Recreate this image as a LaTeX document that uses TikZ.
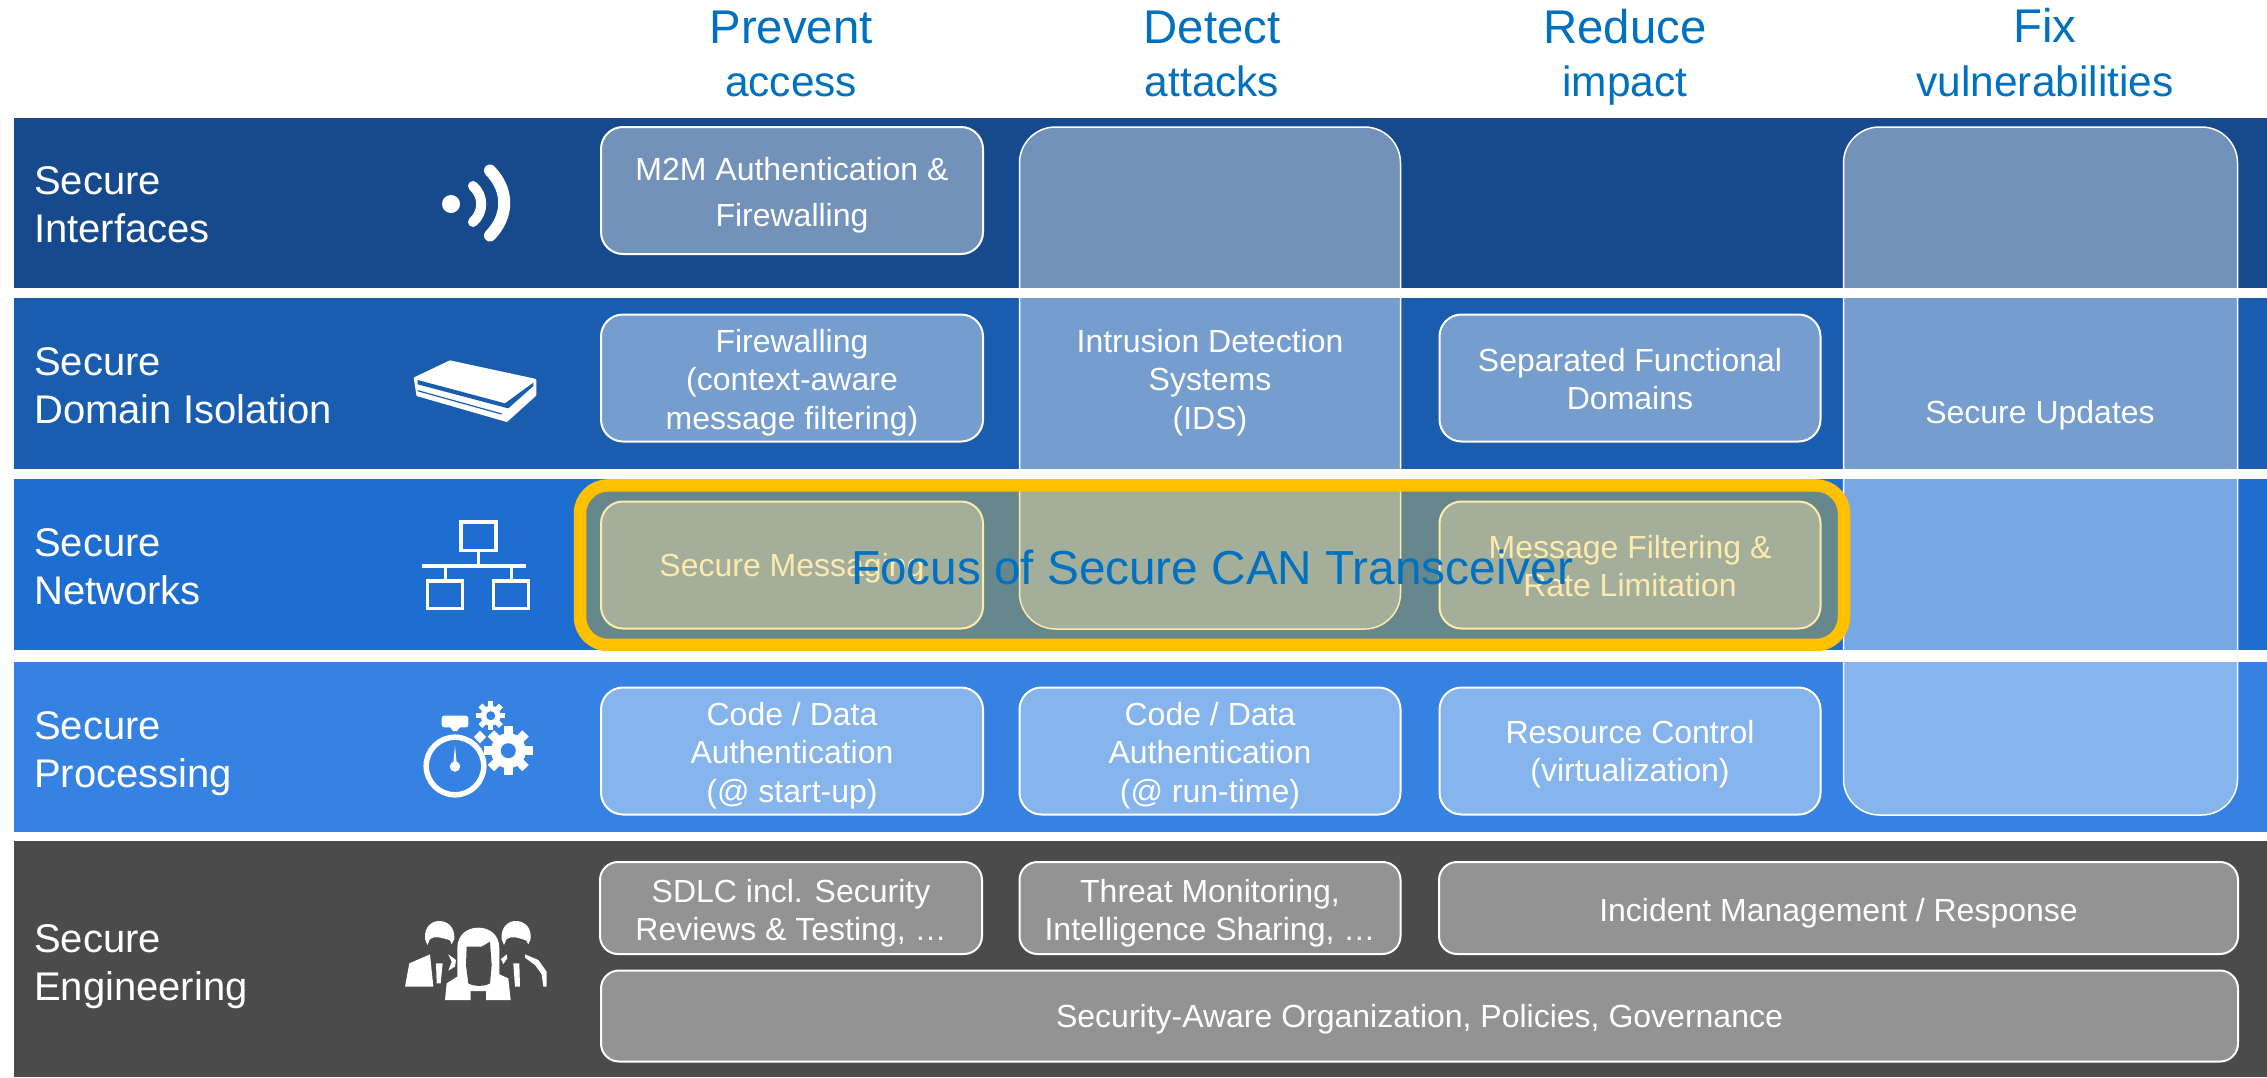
\documentclass[tikz,border=0pt]{standalone}
\usepackage{fontspec}
\setmainfont{Liberation Sans}
\definecolor{bandA}{HTML}{174A8C}
\definecolor{bandB}{HTML}{1A5DAE}
\definecolor{bandC}{HTML}{1E6ED1}
\definecolor{bandD}{HTML}{3682E2}
\definecolor{bandE}{HTML}{4B4B4B}
\definecolor{headblue}{HTML}{0070C0}
\definecolor{frameyellow}{HTML}{FFC000}
\tikzset{
  band/.style={rectangle,inner sep=0pt,outer sep=0pt,draw=none},
  cell/.style={rectangle,rounded corners=22pt,draw=white,line width=2pt,fill=white,fill opacity=.4,draw opacity=1,inner sep=0pt},
  tallcell/.style={cell,rounded corners=36pt,line width=1.5pt},
  engcell/.style={cell,rounded corners=18pt},
  celltext/.style={text=white,align=center,inner sep=0pt,font=\fontsize{32}{38.5}\selectfont},
  rowlabel/.style={text=white,align=left,anchor=west,inner sep=0pt,font=\fontsize{40}{48}\selectfont},
  head/.style={text=headblue,align=center,inner sep=0pt,font=\fontsize{47.3}{53.5}\selectfont},
  focusframe/.style={rectangle,rounded corners=28pt,draw=frameyellow,line width=12.5pt,fill=frameyellow,fill opacity=.32,draw opacity=1,inner sep=0pt},
  focustext/.style={text=headblue,inner sep=0pt,font=\fontsize{47.7}{54}\selectfont},
  iconline/.style={draw=white,line width=3.5pt},
  pic3/.style={x=0.33333pt,y=-0.33333pt}
}
\newcommand{\subhead}[1]{{\fontsize{42.4}{53.5}\selectfont #1}}
\newcommand{\gearicon}[6]{% cx cy root tip toothwidth hole
  \foreach \ang in {0,45,...,315}{
    \fill[white,rotate around={\ang:(#1,#2)}] (#1-#5/2,#2) rectangle (#1+#5/2,#2-#4);
  }
  \fill[white] (#1,#2) circle[radius=#3];
  \fill[bandD] (#1,#2) circle[radius=#6];
}
\begin{document}
\begin{tikzpicture}[x=1pt,y=-1pt]
\useasboundingbox (0,0) rectangle (2267,1077);
\fill[white] (0,0) rectangle (2267,1077);
% bands
\node[band,fill=bandA,anchor=north west,minimum width=2253pt,minimum height=169.5pt] (b1) at (14,118) {};
\node[band,fill=bandB,anchor=north west,minimum width=2253pt,minimum height=171pt] (b2) at (14,298) {};
\node[band,fill=bandC,anchor=north west,minimum width=2253pt,minimum height=171pt] (b3) at (14,479) {};
\node[band,fill=bandD,anchor=north west,minimum width=2253pt,minimum height=170pt] (b4) at (14,662) {};
\node[band,fill=bandE,anchor=north west,minimum width=2253pt,minimum height=236pt] (b5) at (14,841) {};
% headers
\node[head] (h1) at (791,54) {Prevent\\\subhead{access}};
\node[head] (h2) at (1212,54) {Detect\\\subhead{attacks}};
\node[head] (h3) at (1625,57.5) {Reduce\\\subhead{impact}};
\node[head] (h4) at (2045,52.5) {Fix\\\subhead{vulnerabilities}};
% row labels
\node[rowlabel] (l1) at (34,205) {Secure\\Interfaces};
\node[rowlabel] (l2) at (34,386) {Secure\\Domain Isolation};
\node[rowlabel] (l3) at (34,567) {Secure\\Networks};
\node[rowlabel] (l4) at (34,754) {Secure\\Processing};
\node[rowlabel] (l5) at (34,967) {Secure\\Engineering};
% tall columns
\node[tallcell,minimum width=381pt,minimum height=502pt] (tall2) at (1210,378) {};
\node[tallcell,minimum width=394pt,minimum height=688pt] (tall4) at (2040.5,471) {};
\node[celltext] (ids) at (1210,382.5) {Intrusion Detection\\Systems\\(IDS)};
\node[celltext] (upd) at (2040,415.5) {Secure Updates};
% cells
\node[cell,minimum width=382pt,minimum height=127pt] (c11) at (792,190.5) {};
\node[celltext,font=\fontsize{32}{46}\selectfont] (t11) at (792,195) {M2M Authentication \&\\Firewalling};
\node[cell,minimum width=382pt,minimum height=127pt] (c21) at (792,378) {};
\node[celltext] (t21) at (792,382.5) {Firewalling\\(context-aware\\message filtering)};
\node[cell,minimum width=381pt,minimum height=127pt] (c23) at (1630,378) {};
\node[celltext] (t23) at (1630,379) {Separated Functional\\Domains};
\node[cell,minimum width=382pt,minimum height=127pt] (c31) at (792,565) {};
\node[celltext] (t31) at (792,568) {Secure Messaging};
\node[cell,minimum width=381pt,minimum height=127pt] (c33) at (1630,565) {};
\node[celltext] (t33) at (1630,566) {Message Filtering \&\\Rate Limitation};
\node[cell,minimum width=382pt,minimum height=127pt] (c41) at (792,751) {};
\node[celltext] (t41) at (792,755.5) {Code / Data\\Authentication\\(@ start-up)};
\node[cell,minimum width=381pt,minimum height=127pt] (c42) at (1210,751) {};
\node[celltext] (t42) at (1210,755.5) {Code / Data\\Authentication\\(@ run-time)};
\node[cell,minimum width=381pt,minimum height=127pt] (c43) at (1630,751) {};
\node[celltext] (t43) at (1630,754) {Resource Control\\(virtualization)};
% engineering cells
\node[engcell,minimum width=382pt,minimum height=92pt] (e1) at (791,908) {};
\node[celltext] (te1) at (791,913) {SDLC incl. Security\\Reviews \& Testing, …};
\node[engcell,minimum width=381pt,minimum height=92pt] (e2) at (1210,908) {};
\node[celltext] (te2) at (1210,913) {Threat Monitoring,\\Intelligence Sharing, …};
\node[engcell,minimum width=799pt,minimum height=92pt] (e3) at (1838.5,908) {};
\node[celltext] (te3) at (1838.5,913.5) {Incident Management / Response};
\node[engcell,minimum width=1637pt,minimum height=91pt] (e4) at (1419.5,1016) {};
\node[celltext] (te4) at (1419.5,1019) {Security-Aware Organization, Policies, Governance};
% focus frame
\node[focusframe,minimum width=1264pt,minimum height=159.5pt] (ff) at (1212,565.2) {};
\node[focustext] (ft) at (1212,567) {Focus of Secure CAN Transceiver};
% --- icons ---
% wireless
\fill[white] (451,204) circle[radius=9];
\draw[white,line width=10pt,line cap=round] (473,186) .. controls (484,196) and (484,212) .. (473,222);
\draw[white,line width=12pt,line cap=round] (490,170.5) .. controls (509,190) and (509,216) .. (490,235.5);
% router
\begin{scope}[shift={(405,350)},pic3]
\fill[white,line join=round,draw=white,line width=2.5pt] (30,85) -- (135,35) -- (390,90) -- (390,135) -- (305,212) -- (38,135) -- cycle;
\fill[bandB] (38,90) -- (300,160) -- (385,98) -- (385,108) -- (310,175) -- (298,172) -- (38,103) -- cycle;
\draw[bandB,line width=1.2pt] (38,122) -- (290,192);
\end{scope}
% network
\draw[iconline] (461,522) rectangle (496,550.5);
\draw[iconline] (427.5,581) rectangle (462.5,608.5);
\draw[iconline] (493.5,581) rectangle (528.3,608.5);
\draw[iconline] (422,566) -- (525.7,566);
\draw[iconline] (478.3,552) -- (478.3,566);
\draw[iconline] (445.7,566) -- (445.7,580);
\draw[iconline] (511.7,566) -- (511.7,580);
% stopwatch and gears
\draw[white,line width=5.5pt] (455,766) circle[radius=28.8];
\fill[white,rounded corners=2.5pt] (441.7,715.7) rectangle (468.3,727.3);
\fill[white] (450,727) -- (460,727) -- (457,731) -- (453,731) -- cycle;
\fill[white] (455,746) -- (456.8,764) -- (453.2,764) -- cycle;
\fill[white] (455,766.5) circle[radius=5.2];
\fill[white] (480,730.5) -- (486,737) -- (480,743.5) -- (474,737) -- cycle;
\gearicon{508.3}{750.7}{17.5}{24.5}{9}{7.5}
\gearicon{490.7}{715.7}{10}{14.5}{5.5}{4.5}
% people
\begin{scope}[shift={(400,915)},pic3]
\fill[white] (75,72) .. controls (72,35) and (95,18) .. (118,18) .. controls (142,18) and (165,35) .. (163,72) -- (155,88) -- (150,76) .. controls (130,70) and (105,60) .. (90,72) -- (82,90) -- cycle;
\fill[white] (15,215) -- (28,145) -- (90,118) -- (100,215) -- cycle;
\fill[white] (108,145) -- (128,145) -- (122,205) -- (110,205) -- cycle;
\fill[white] (145,118) -- (168,135) -- (165,155) -- (145,167) -- (155,140) -- cycle;
\fill[white] (305,72) .. controls (302,35) and (325,18) .. (347,18) .. controls (372,18) and (395,35) .. (392,72) -- (385,88) -- (378,76) .. controls (360,70) and (335,60) .. (320,72) -- (312,90) -- cycle;
\fill[white] (340,145) -- (358,145) -- (360,215) -- (345,215) -- cycle;
\fill[white] (375,118) -- (415,135) -- (440,170) -- (440,215) -- (430,215) -- (425,178) -- (405,150) -- (375,128) -- cycle;
\fill[white] (303,132) -- (320,118) -- (322,130) -- (310,147) -- cycle;
\fill[white] (172,185) -- (172,100) .. controls (172,60) and (200,38) .. (235,38) .. controls (270,38) and (298,60) .. (298,100) -- (298,185) -- cycle;
\fill[white] (135,255) -- (140,205) -- (195,170) -- (280,170) -- (325,190) -- (332,255) -- (258,255) -- (258,228) -- (212,228) -- (212,255) -- cycle;
\fill[bandE] (200,95) -- (245,95) -- (270,80) -- (275,150) -- (270,205) .. controls (255,215) and (220,215) .. (205,205) -- (198,150) -- cycle;
\end{scope}
\end{tikzpicture}
\end{document}
